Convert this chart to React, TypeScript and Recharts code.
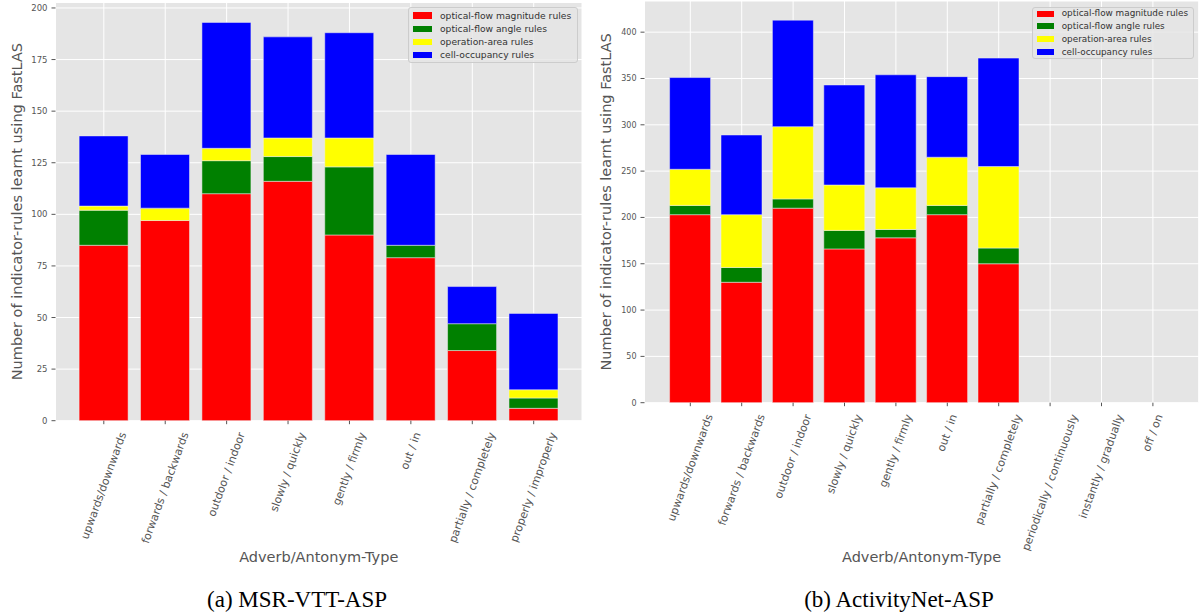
import React from 'react';
import { BarChart, Bar, XAxis, YAxis, CartesianGrid, Legend } from 'recharts';

// ---------- data ----------
const categoriesA = [
  'upwards/downwards',
  'forwards / backwards',
  'outdoor / indoor',
  'slowly / quickly',
  'gently / firmly',
  'out / in',
  'partially / completely',
  'properly / improperly',
];
const magnitudeA = [85, 97, 110, 116, 90, 79, 34, 6];
const angleA = [17, 0, 16, 12, 33, 6, 13, 5];
const areaA = [2, 6, 6, 9, 14, 0, 0, 4];
const cellA = [34, 26, 61, 49, 51, 44, 18, 37];
const yTicksA = [0, 25, 50, 75, 100, 125, 150, 175, 200];

const categoriesB = [
  'upwards/downwards',
  'forwards / backwards',
  'outdoor / indoor',
  'slowly / quickly',
  'gently / firmly',
  'out / in',
  'partially / completely',
  'periodically / continuously',
  'instantly / gradually',
  'off / on',
];
const magnitudeB = [203, 130, 210, 166, 178, 203, 150, 0, 0, 0];
const angleB = [10, 16, 10, 20, 9, 10, 17, 0, 0, 0];
const areaB = [39, 57, 78, 49, 45, 52, 88, 0, 0, 0];
const cellB = [99, 86, 115, 108, 122, 87, 117, 0, 0, 0];
const yTicksB = [0, 50, 100, 150, 200, 250, 300, 350, 400];

const seriesNames = [
  'optical-flow magnitude rules',
  'optical-flow angle rules',
  'operation-area rules',
  'cell-occupancy rules',
];
const seriesColors = ['#FF0000', '#008000', '#FFFF00', '#0000FF'];

const xLabel = 'Adverb/Antonym-Type';
const yLabel = 'Number of indicator-rules learnt using FastLAS';
const captionA = '(a) MSR-VTT-ASP';
const captionB = '(b) ActivityNet-ASP';

const build = (cats: string[], s: number[][]) =>
  cats.map((name, i) => ({ name, s0: s[0][i], s1: s[1][i], s2: s[2][i], s3: s[3][i] }));

const dataA = build(categoriesA, [magnitudeA, angleA, areaA, cellA]);
const dataB = build(categoriesB, [magnitudeB, angleB, areaB, cellB]);

const FONT = 'DejaVu Sans, Verdana, sans-serif';

// ---------- text measurement ----------
let ctx: CanvasRenderingContext2D | null = null;
const measure = (text: string, size: number) => {
  if (typeof document !== 'undefined') {
    if (!ctx) ctx = document.createElement('canvas').getContext('2d');
    if (ctx) {
      ctx.font = `${size}px "DejaVu Sans"`;
      return ctx.measureText(text).width;
    }
  }
  return text.length * size * 0.58;
};

const XTick = (props: any) => {
  const { x, y, payload } = props;
  const label = String(payload.value);
  const fs = 11;
  const L = measure(label, fs);
  const a = (70 * Math.PI) / 180;
  const halfH = (L / 2) * Math.sin(a) + ((fs * 1.05) / 2) * Math.cos(a);
  const cy = y + halfH;
  return (
    <text
      x={x}
      y={cy}
      transform={`rotate(-70 ${x} ${cy})`}
      textAnchor="middle"
      dominantBaseline="central"
      fontSize={fs}
      fill="#555555"
      fontFamily={FONT}
    >
      {label}
    </text>
  );
};

const YTitle = (props: any) => {
  const { viewBox, bx } = props;
  const cy = viewBox ? viewBox.y + viewBox.height / 2 : 210;
  return (
    <text
      x={bx}
      y={cy}
      transform={`rotate(-90 ${bx} ${cy})`}
      textAnchor="middle"
      fontSize={14.5}
      fill="#555555"
      fontFamily={FONT}
    >
      {yLabel}
    </text>
  );
};

const XTitle = (props: any) => {
  const { viewBox, cyPos } = props;
  const cx = viewBox ? viewBox.x + viewBox.width / 2 : 300;
  return (
    <text
      x={cx}
      y={cyPos}
      textAnchor="middle"
      dominantBaseline="central"
      fontSize={14.5}
      fill="#555555"
      fontFamily={FONT}
    >
      {xLabel}
    </text>
  );
};

const makeLegend = (cfg: {
  w: number;
  h: number;
  rowTop: number;
  rowGap: number;
  swLeft: number;
  swW: number;
  swH: number;
  textLeft: number;
  fs: number;
}) => (props: any) => {
  const payload: any[] = props.payload || [];
  const ordered = seriesNames.map((n, i) => {
    const p = payload.find((q: any) => q.value === n);
    return { value: n, color: p ? p.color : seriesColors[i] };
  });
  return (
    <div
      style={{
        position: 'relative',
        width: cfg.w,
        height: cfg.h,
        boxSizing: 'border-box',
        border: '1px solid #CCCCCC',
        borderRadius: 3,
        background: 'rgba(229,229,229,0.8)',
        fontFamily: FONT,
        fontSize: cfg.fs,
        color: '#333333',
      }}
    >
      {ordered.map((p: any, i: number) => {
        const c = cfg.rowTop + i * cfg.rowGap;
        return (
          <React.Fragment key={i}>
            <div
              style={{
                position: 'absolute',
                left: cfg.swLeft,
                top: c - cfg.swH / 2,
                width: cfg.swW,
                height: cfg.swH,
                background: p.color,
              }}
            />
            <div
              style={{
                position: 'absolute',
                left: cfg.textLeft,
                top: c - cfg.fs * 0.62,
                lineHeight: `${cfg.fs * 1.2}px`,
                whiteSpace: 'nowrap',
              }}
            >
              {p.value}
            </div>
          </React.Fragment>
        );
      })}
    </div>
  );
};

const legendA = makeLegend({ w: 170, h: 56, rowTop: 7.4, rowGap: 13.1, swLeft: 3.4, swW: 19, swH: 6.4, textLeft: 30.7, fs: 9.2 });
const legendB = makeLegend({ w: 162, h: 52, rowTop: 6, rowGap: 12.8, swLeft: 4, swW: 17.6, swH: 6, textLeft: 29, fs: 8.85 });

const bars = (barSize: number) =>
  ['s0', 's1', 's2', 's3'].map((k, i) => (
    <Bar
      key={k}
      dataKey={k}
      name={seriesNames[i]}
      stackId="a"
      fill={seriesColors[i]}
      stroke="#EEEEEE"
      strokeWidth={0.5}
      barSize={barSize}
      isAnimationActive={false}
    />
  ));

export default function App() {
  return (
    <div
      style={{
        position: 'absolute',
        left: 0,
        top: 0,
        width: 1199,
        height: 615,
        background: '#ffffff',
        overflow: 'hidden',
      }}
    >
      <div style={{ position: 'absolute', left: 0, top: 0 }}>
        <BarChart width={600} height={615} data={dataA} margin={{ top: 2.5, right: 18, left: 0, bottom: 0 }}>
          <CartesianGrid fill="#E5E5E5" fillOpacity={1} stroke="#FFFFFF" strokeWidth={1} />
          <XAxis
            dataKey="name"
            type="category"
            height={194.3}
            padding={{ left: 17.6, right: 17.6 }}
            axisLine={false}
            tickLine={{ stroke: '#555555' }}
            tickSize={3.5}
            tickMargin={6.5}
            interval={0}
            tick={<XTick />}
            label={<XTitle cyPos={557} />}
          />
          <YAxis
            width={55.5}
            domain={[0, 202.65]}
            ticks={yTicksA}
            allowDataOverflow
            axisLine={false}
            tickLine={{ stroke: '#555555' }}
            tickSize={4}
            tickMargin={4}
            tick={{ fontSize: 8.5, fill: '#555555', fontFamily: FONT }}
            label={<YTitle bx={22} />}
          />
          {bars(49)}
          <Legend
            layout="vertical"
            align="center"
            verticalAlign="middle"
            wrapperStyle={{ position: 'absolute', left: 408.3, top: 7.3, width: 170, height: 56 }}
            content={legendA}
          />
        </BarChart>
      </div>
      <div style={{ position: 'absolute', left: 599, top: 0 }}>
        <BarChart width={600} height={615} data={dataB} margin={{ top: 1, right: 0.3, left: 0, bottom: 0 }}>
          <CartesianGrid fill="#E5E5E5" fillOpacity={1} stroke="#FFFFFF" strokeWidth={1} />
          <XAxis
            dataKey="name"
            type="category"
            height={212.3}
            padding={{ left: 20.1, right: 20.1 }}
            axisLine={false}
            tickLine={{ stroke: '#555555' }}
            tickSize={3.5}
            tickMargin={6.5}
            interval={0}
            tick={<XTick />}
            label={<XTitle cyPos={557} />}
          />
          <YAxis
            width={45.5}
            domain={[0, 433.65]}
            ticks={yTicksB}
            allowDataOverflow
            axisLine={false}
            tickLine={{ stroke: '#555555' }}
            tickSize={4}
            tickMargin={4}
            tick={{ fontSize: 8, fill: '#555555', fontFamily: FONT }}
            label={<YTitle bx={12} />}
          />
          {bars(41)}
          <Legend
            layout="vertical"
            align="center"
            verticalAlign="middle"
            wrapperStyle={{ position: 'absolute', left: 432.7, top: 6.7, width: 162, height: 52 }}
            content={legendB}
          />
        </BarChart>
      </div>
      <div
        style={{
          position: 'absolute',
          left: 97,
          width: 400,
          top: 585,
          textAlign: 'center',
          fontFamily: '"Liberation Serif", "Times New Roman", serif',
          fontSize: 23,
          lineHeight: '30px',
          color: '#000',
        }}
      >
        {captionA}
      </div>
      <div
        style={{
          position: 'absolute',
          left: 699,
          width: 400,
          top: 585,
          textAlign: 'center',
          fontFamily: '"Liberation Serif", "Times New Roman", serif',
          fontSize: 23,
          lineHeight: '30px',
          color: '#000',
        }}
      >
        {captionB}
      </div>
    </div>
  );
}
